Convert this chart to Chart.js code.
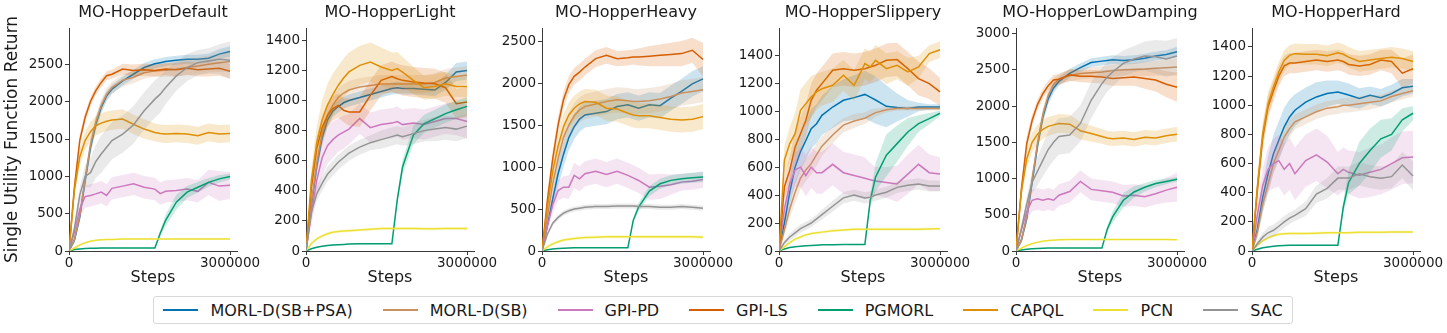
<!DOCTYPE html>
<html>
<head>
<meta charset="utf-8">
<script src="https://cdn.jsdelivr.net/npm/chart.js@4.4.1/dist/chart.umd.min.js"></script>
<style>
  body { margin: 0; background: #fff; width: 1447px; height: 333px; position: relative; overflow: hidden; font-family: "DejaVu Sans", sans-serif; }
  canvas { position: absolute; top: 0; }
  #legend { position: absolute; left: 153px; top: 296px; width: 1140px; height: 28px; box-sizing: border-box;
            border: 1px solid #d8d8d8; border-radius: 3px; display: flex; align-items: center; justify-content: center;
            font-size: 16px; color: #1a1a1a; }
  .item { display: flex; align-items: center; margin: 0 15px; white-space: nowrap; }
  .swatch { width: 35px; height: 2.6px; margin-right: 12px; }
</style>
</head>
<body>
<div id="legend"></div>
<script>
// training steps shared by every curve
const steps = [0, 100000, 200000, 300000, 400000, 500000, 600000, 700000, 800000, 1000000, 1200000,
               1400000, 1600000, 1700000, 1800000, 2000000, 2200000, 2400000, 2600000, 2800000, 3000000];
const xTicks = [0, 3000000];

const methods = ['MORL-D(SB+PSA)', 'MORL-D(SB)', 'GPI-PD', 'GPI-LS', 'PGMORL', 'CAPQL', 'PCN', 'SAC'];
const colors = ['#0173b2', '#ca9161', '#cc78bc', '#d55e00', '#029e73', '#de8f05', '#ece133', '#949494'];

const envTitles = ['MO-HopperDefault', 'MO-HopperLight', 'MO-HopperHeavy', 'MO-HopperSlippery', 'MO-HopperLowDamping', 'MO-HopperHard'];
const yMax = [2990, 1482, 2655, 1595, 3077, 1530];
const ticks500 = [0, 500, 1000, 1500, 2000, 2500];
const ticks200 = [0, 200, 400, 600, 800, 1000, 1200, 1400];
const ticks3000 = [0, 500, 1000, 1500, 2000, 2500, 3000];

// rows follow the methods order; band = half width of the shaded area
const defaultMean = [
  [0, 145, 455, 945, 1390, 1700, 1925, 2080, 2170, 2280, 2370, 2460, 2510, 2525, 2540, 2558, 2570, 2570, 2585, 2640, 2675],
  [0, 150, 470, 960, 1420, 1730, 1950, 2100, 2190, 2290, 2330, 2390, 2415, 2420, 2425, 2437, 2460, 2480, 2505, 2525, 2540],
  [0, 250, 560, 730, 745, 766, 790, 745, 840, 870, 900, 855, 830, 770, 800, 810, 830, 800, 920, 870, 880],
  [0, 850, 1480, 1790, 2005, 2150, 2260, 2350, 2370, 2440, 2420, 2430, 2420, 2430, 2440, 2430, 2450, 2430, 2440, 2450, 2410],
  [0, 20, 28, 33, 36, 38, 40, 40, 40, 40, 40, 40, 40, 237, 410, 655, 790, 855, 920, 967, 998],
  [0, 815, 1260, 1480, 1600, 1680, 1715, 1740, 1755, 1770, 1700, 1635, 1590, 1575, 1568, 1577, 1568, 1546, 1590, 1568, 1577],
  [0, 40, 80, 110, 130, 145, 150, 155, 155, 160, 160, 160, 160, 160, 160, 160, 160, 160, 160, 160, 160],
  [0, 300, 750, 1000, 1050, 1200, 1300, 1390, 1480, 1568, 1690, 1880, 2036, 2103, 2192, 2348, 2460, 2526, 2549, 2571, 2558]
];
const defaultBand = [
  [0, 40, 80, 100, 100, 90, 80, 70, 60, 60, 60, 60, 60, 60, 60, 60, 60, 60, 60, 70, 70],
  [0, 40, 80, 100, 100, 90, 80, 80, 80, 80, 80, 80, 80, 90, 90, 100, 100, 110, 110, 120, 130],
  [0, 50, 100, 150, 150, 150, 150, 150, 150, 150, 150, 150, 150, 150, 150, 150, 150, 150, 170, 200, 180],
  [0, 80, 80, 70, 60, 60, 60, 60, 60, 70, 80, 80, 80, 80, 80, 90, 90, 90, 100, 100, 100],
  [0, 5, 5, 5, 5, 5, 5, 5, 5, 5, 5, 5, 5, 40, 80, 100, 80, 70, 60, 50, 40],
  [0, 100, 120, 130, 130, 130, 130, 130, 130, 130, 130, 130, 120, 120, 120, 120, 120, 120, 120, 120, 120],
  [0, 10, 10, 10, 10, 10, 10, 10, 10, 10, 10, 10, 10, 10, 10, 10, 10, 10, 10, 10, 10],
  [0, 50, 100, 150, 200, 220, 250, 250, 250, 250, 250, 250, 250, 250, 220, 200, 180, 170, 170, 200, 250]
];

const lightMean = [
  [0, 300, 560, 750, 870, 930, 960, 985, 1000, 1020, 1040, 1060, 1080, 1085, 1080, 1080, 1075, 1070, 1120, 1190, 1200],
  [0, 320, 580, 780, 900, 970, 1020, 1050, 1070, 1090, 1100, 1110, 1110, 1110, 1110, 1110, 1110, 1120, 1150, 1160, 1170],
  [0, 250, 470, 620, 700, 740, 770, 790, 810, 880, 820, 840, 850, 860, 840, 850, 840, 860, 880, 880, 860],
  [0, 420, 680, 820, 900, 946, 968, 935, 924, 924, 1034, 1134, 1160, 1145, 1134, 1123, 1116, 1112, 1085, 979, 990],
  [0, 15, 25, 32, 37, 40, 42, 44, 46, 48, 48, 48, 48, 340, 560, 770, 846, 879, 913, 939, 961],
  [0, 470, 720, 870, 970, 1040, 1100, 1150, 1190, 1234, 1256, 1223, 1200, 1212, 1189, 1134, 1085, 1094, 1112, 1094, 1094],
  [0, 50, 80, 100, 115, 125, 130, 133, 135, 140, 145, 150, 150, 150, 150, 150, 148, 148, 150, 150, 150],
  [0, 260, 380, 450, 510, 550, 590, 620, 650, 690, 720, 740, 760, 770, 760, 780, 800, 810, 820, 810, 830]
];
const lightBand = [
  [0, 40, 50, 50, 50, 40, 40, 40, 40, 40, 40, 40, 40, 40, 40, 40, 40, 40, 50, 60, 60],
  [0, 50, 60, 60, 60, 60, 60, 60, 60, 60, 60, 60, 60, 60, 60, 60, 60, 60, 60, 60, 60],
  [0, 80, 100, 120, 120, 120, 110, 110, 100, 100, 100, 100, 100, 100, 100, 100, 100, 100, 100, 110, 110],
  [0, 60, 80, 80, 80, 80, 80, 80, 90, 100, 100, 100, 100, 100, 100, 100, 100, 100, 100, 100, 100],
  [0, 3, 3, 3, 3, 3, 3, 3, 3, 3, 3, 3, 3, 30, 50, 60, 60, 60, 60, 60, 60],
  [0, 80, 110, 130, 140, 140, 130, 130, 130, 130, 130, 130, 120, 110, 100, 90, 80, 80, 80, 70, 70],
  [0, 10, 10, 10, 10, 10, 10, 10, 10, 10, 10, 10, 10, 10, 10, 10, 10, 10, 10, 10, 10],
  [0, 40, 50, 50, 50, 50, 50, 50, 50, 50, 50, 60, 60, 60, 60, 70, 70, 80, 80, 80, 80]
];

const heavyMean = [
  [0, 300, 620, 920, 1150, 1350, 1480, 1570, 1620, 1640, 1660, 1720, 1740, 1720, 1700, 1740, 1730, 1820, 1900, 1990, 2050],
  [0, 400, 800, 1100, 1350, 1500, 1610, 1680, 1720, 1750, 1780, 1800, 1790, 1780, 1780, 1790, 1810, 1840, 1880, 1900, 1920],
  [0, 300, 550, 720, 760, 760, 900, 860, 920, 950, 910, 950, 900, 870, 840, 760, 770, 790, 820, 830, 850],
  [0, 600, 1100, 1500, 1800, 1980, 2080, 2130, 2190, 2290, 2330, 2290, 2300, 2310, 2310, 2320, 2330, 2340, 2350, 2390, 2280],
  [0, 15, 25, 30, 34, 37, 40, 40, 40, 40, 40, 40, 40, 365, 524, 714, 800, 841, 861, 873, 880],
  [0, 520, 950, 1250, 1480, 1620, 1700, 1750, 1780, 1770, 1700, 1690, 1640, 1620, 1610, 1610, 1590, 1570, 1560, 1570, 1600],
  [0, 50, 85, 110, 130, 140, 150, 155, 160, 165, 170, 170, 170, 170, 170, 170, 170, 170, 170, 170, 165],
  [0, 200, 330, 400, 450, 480, 500, 510, 520, 530, 530, 535, 535, 535, 530, 530, 520, 520, 530, 520, 510]
];
const heavyBand = [
  [0, 50, 100, 150, 150, 150, 150, 150, 150, 150, 150, 150, 150, 150, 150, 150, 150, 150, 150, 150, 150],
  [0, 60, 100, 130, 150, 150, 150, 150, 150, 150, 150, 150, 150, 150, 150, 150, 150, 150, 150, 150, 150],
  [0, 80, 100, 120, 130, 140, 150, 150, 150, 150, 150, 150, 150, 150, 150, 150, 150, 120, 100, 100, 100],
  [0, 100, 100, 100, 100, 100, 100, 100, 100, 100, 100, 90, 90, 90, 100, 120, 130, 140, 150, 150, 200],
  [0, 3, 3, 3, 3, 3, 3, 3, 3, 3, 3, 3, 3, 30, 50, 60, 60, 60, 60, 60, 60],
  [0, 80, 120, 150, 150, 150, 150, 150, 150, 150, 150, 150, 150, 150, 150, 150, 150, 150, 150, 150, 150],
  [0, 20, 20, 20, 20, 20, 20, 20, 20, 20, 20, 20, 20, 20, 20, 20, 20, 20, 20, 20, 20],
  [0, 20, 25, 30, 30, 30, 30, 30, 30, 30, 30, 30, 30, 30, 30, 30, 30, 30, 30, 30, 30]
];

const slipperyMean = [
  [0, 200, 420, 600, 710, 790, 875, 910, 970, 1030, 1078, 1097, 1120, 1100, 1080, 1035, 1026, 1020, 1030, 1030, 1030],
  [0, 150, 300, 420, 520, 580, 625, 690, 750, 830, 900, 930, 950, 970, 990, 1010, 1020, 1020, 1020, 1020, 1020],
  [0, 300, 480, 580, 600, 540, 600, 560, 560, 620, 560, 540, 520, 510, 500, 490, 480, 550, 620, 560, 550],
  [0, 458, 577, 744, 839, 935, 1078, 1150, 1197, 1293, 1304, 1293, 1304, 1316, 1328, 1364, 1369, 1304, 1233, 1197, 1138],
  [0, 15, 25, 30, 34, 37, 40, 42, 44, 45, 46, 47, 47, 362, 530, 685, 768, 851, 911, 947, 985],
  [0, 649, 768, 839, 1006, 1054, 1102, 1138, 1161, 1185, 1257, 1185, 1340, 1316, 1364, 1304, 1328, 1281, 1316, 1412, 1440],
  [0, 30, 60, 85, 100, 115, 125, 130, 135, 145, 150, 155, 155, 155, 155, 155, 155, 155, 155, 158, 160],
  [0, 60, 100, 130, 160, 180, 200, 230, 260, 320, 380, 400, 380, 385, 400, 420, 455, 470, 480, 465, 465]
];
const slipperyBand = [
  [0, 60, 100, 120, 130, 140, 140, 140, 140, 150, 150, 160, 170, 170, 170, 150, 100, 60, 30, 20, 20],
  [0, 40, 60, 80, 80, 80, 80, 80, 70, 60, 50, 50, 40, 40, 30, 20, 15, 15, 15, 15, 15],
  [0, 80, 100, 120, 140, 150, 150, 150, 150, 150, 150, 150, 150, 120, 100, 110, 130, 140, 140, 130, 120],
  [0, 80, 100, 120, 120, 120, 120, 120, 120, 120, 120, 120, 120, 120, 120, 120, 120, 120, 120, 110, 100],
  [0, 3, 3, 3, 3, 3, 3, 3, 3, 3, 3, 3, 3, 40, 100, 150, 130, 100, 60, 40, 20],
  [0, 100, 120, 150, 150, 150, 150, 130, 120, 120, 110, 110, 110, 110, 110, 110, 100, 100, 80, 60, 60],
  [0, 10, 10, 10, 10, 10, 10, 10, 10, 10, 10, 10, 10, 10, 10, 10, 10, 10, 10, 10, 10],
  [0, 20, 25, 30, 30, 30, 30, 30, 35, 40, 40, 40, 40, 40, 40, 40, 40, 40, 40, 40, 40]
];

const lowDampingMean = [
  [0, 150, 450, 950, 1450, 1850, 2100, 2250, 2340, 2450, 2530, 2600, 2620, 2630, 2640, 2630, 2640, 2660, 2690, 2710, 2750],
  [0, 150, 470, 980, 1480, 1880, 2150, 2300, 2370, 2420, 2450, 2460, 2470, 2480, 2490, 2500, 2505, 2510, 2520, 2530, 2540],
  [0, 300, 540, 700, 720, 700, 720, 700, 770, 820, 960, 850, 830, 820, 810, 760, 770, 750, 790, 840, 880],
  [0, 850, 1480, 1800, 2020, 2170, 2280, 2360, 2370, 2430, 2410, 2410, 2400, 2390, 2380, 2390, 2400, 2380, 2360, 2300, 2260],
  [0, 15, 25, 30, 34, 37, 40, 40, 40, 40, 40, 40, 40, 300, 470, 700, 814, 880, 930, 960, 990],
  [0, 820, 1270, 1500, 1610, 1680, 1720, 1740, 1760, 1750, 1660, 1620, 1580, 1560, 1550, 1560, 1540, 1570, 1560, 1590, 1610],
  [0, 40, 75, 100, 120, 135, 145, 150, 155, 160, 160, 160, 160, 160, 160, 160, 158, 158, 160, 158, 155],
  [0, 300, 650, 950, 1100, 1250, 1400, 1500, 1580, 1600, 1760, 2080, 2310, 2400, 2470, 2590, 2650, 2690, 2680, 2650, 2690]
];
const lowDampingBand = [
  [0, 40, 80, 100, 100, 90, 80, 70, 60, 60, 60, 60, 60, 60, 60, 60, 60, 60, 60, 60, 70],
  [0, 40, 80, 100, 100, 90, 80, 80, 80, 80, 80, 80, 80, 80, 80, 80, 90, 100, 100, 110, 120],
  [0, 80, 120, 150, 150, 150, 150, 150, 150, 150, 150, 150, 150, 150, 150, 150, 150, 150, 150, 170, 200],
  [0, 100, 100, 80, 70, 70, 70, 70, 70, 80, 80, 90, 90, 100, 100, 110, 120, 140, 160, 180, 200],
  [0, 3, 3, 3, 3, 3, 3, 3, 3, 3, 3, 3, 3, 40, 80, 100, 80, 60, 50, 40, 30],
  [0, 100, 130, 130, 130, 130, 130, 130, 130, 130, 120, 110, 100, 100, 100, 100, 100, 100, 100, 100, 100],
  [0, 10, 10, 10, 10, 10, 10, 10, 10, 10, 10, 10, 10, 10, 10, 10, 10, 10, 10, 10, 10],
  [0, 50, 100, 150, 200, 220, 250, 250, 250, 250, 250, 250, 220, 200, 200, 180, 180, 200, 230, 250, 250]
];

const hardMean = [
  [0, 150, 370, 530, 668, 760, 852, 920, 966, 1022, 1057, 1080, 1090, 1080, 1070, 1046, 1068, 1052, 1080, 1120, 1130],
  [0, 130, 320, 460, 600, 690, 782, 840, 886, 920, 955, 980, 990, 1000, 1000, 1010, 1020, 1030, 1060, 1080, 1100],
  [0, 250, 450, 560, 600, 620, 560, 600, 530, 620, 660, 610, 530, 560, 540, 520, 540, 560, 600, 640, 645],
  [0, 420, 780, 990, 1100, 1200, 1270, 1290, 1290, 1300, 1310, 1300, 1310, 1300, 1280, 1270, 1280, 1310, 1300, 1220, 1250],
  [0, 12, 22, 28, 33, 36, 38, 40, 40, 40, 40, 40, 40, 300, 470, 600, 690, 770, 800, 900, 945],
  [0, 440, 805, 1010, 1125, 1228, 1308, 1342, 1354, 1350, 1350, 1340, 1360, 1350, 1330, 1300, 1310, 1320, 1330, 1320, 1300],
  [0, 40, 70, 90, 105, 115, 118, 120, 120, 120, 122, 125, 125, 125, 125, 128, 128, 128, 130, 130, 130],
  [0, 50, 95, 125, 142, 170, 200, 225, 245, 290, 390, 430, 500, 500, 500, 530, 510, 500, 510, 590, 515]
];
const hardBand = [
  [0, 60, 100, 120, 130, 130, 130, 120, 110, 100, 100, 90, 80, 80, 80, 70, 60, 60, 60, 60, 50],
  [0, 40, 60, 70, 70, 70, 60, 60, 50, 50, 50, 50, 50, 50, 50, 50, 50, 40, 40, 40, 40],
  [0, 80, 120, 150, 170, 180, 180, 180, 180, 180, 180, 180, 150, 150, 150, 160, 170, 170, 180, 180, 180],
  [0, 80, 80, 80, 70, 70, 70, 70, 70, 70, 70, 70, 70, 70, 70, 70, 70, 70, 80, 100, 100],
  [0, 3, 3, 3, 3, 3, 3, 3, 3, 3, 3, 3, 3, 40, 80, 150, 150, 130, 110, 80, 50],
  [0, 80, 80, 80, 70, 70, 70, 70, 70, 70, 70, 70, 70, 70, 70, 70, 70, 70, 70, 70, 70],
  [0, 10, 10, 10, 10, 10, 10, 10, 10, 10, 10, 10, 10, 10, 10, 10, 10, 10, 10, 10, 10],
  [0, 20, 30, 40, 40, 40, 40, 40, 40, 50, 60, 70, 80, 80, 80, 80, 80, 80, 80, 90, 100]
];

const envMeans = [defaultMean, lightMean, heavyMean, slipperyMean, lowDampingMean, hardMean];
const envBands = [defaultBand, lightBand, heavyBand, slipperyBand, lowDampingBand, hardBand];
const envTicks = [ticks500, ticks200, ticks500, ticks200, ticks3000, ticks200];

// layout
const axisLeft = [69, 306, 542, 779, 1016, 1252];
const areaW = 168, canvasH = 290;
const xMax = 3130000;
const ink = '#1a1a1a', spine = '#3a3a3a';

function rgba(hex, a) {
  const n = parseInt(hex.slice(1), 16);
  return `rgba(${n >> 16},${(n >> 8) & 255},${n & 255},${a})`;
}

function buildDatasets(mean, band) {
  const ds = [];
  // last method first so it ends up drawn on top
  for (let s = methods.length - 1; s >= 0; s--) {
    const c = colors[s];
    ds.push({
      label: methods[s],
      data: steps.map((x, k) => ({ x, y: mean[s][k] })),
      borderColor: c, borderWidth: 1.5, pointRadius: 0, fill: false
    });
    ds.push({
      data: steps.map((x, k) => ({ x, y: mean[s][k] - band[s][k] })),
      borderColor: 'transparent', borderWidth: 1, pointRadius: 0, fill: false
    });
    ds.push({
      data: steps.map((x, k) => ({ x, y: mean[s][k] + band[s][k] })),
      borderColor: 'transparent', borderWidth: 1, pointRadius: 0,
      fill: '-1', backgroundColor: rgba(c, 0.2)
    });
  }
  return ds;
}

envTitles.forEach((title, i) => {
  const yw = i === 0 ? 69 : 50;
  const canvas = document.createElement('canvas');
  canvas.width = yw + areaW + yw;
  canvas.height = canvasH;
  canvas.style.left = (axisLeft[i] - yw) + 'px';
  document.body.appendChild(canvas);

  const gridOpts = { display: true, drawOnChartArea: false, drawTicks: true, tickLength: 4, color: spine, lineWidth: 1 };
  const tickValues = envTicks[i];

  new Chart(canvas, {
    type: 'line',
    data: { datasets: buildDatasets(envMeans[i], envBands[i]) },
    options: {
      responsive: false,
      animation: false,
      devicePixelRatio: 1,
      layout: { padding: 0 },
      plugins: {
        legend: { display: false },
        tooltip: { enabled: false },
        title: {
          display: true, text: title, color: ink,
          font: { family: 'DejaVu Sans', size: 16, weight: 'normal' },
          padding: { top: 3, bottom: 5.8 }
        }
      },
      scales: {
        x: {
          type: 'linear', min: 0, max: xMax,
          afterBuildTicks: s => { s.ticks = xTicks.map(v => ({ value: v })); },
          afterFit: s => { s.height = 39; },
          ticks: {
            autoSkip: false, maxRotation: 0, padding: 0, color: ink,
            font: { family: 'DejaVu Sans', size: 13.5 },
            callback: v => String(v)
          },
          grid: gridOpts,
          border: { display: true, color: spine, width: 1 },
          title: {
            display: true, text: 'Steps', color: ink,
            font: { family: 'DejaVu Sans', size: 16 },
            padding: { top: 0, bottom: 3 }
          }
        },
        y: {
          type: 'linear', min: 0, max: yMax[i],
          afterBuildTicks: s => { s.ticks = tickValues.map(v => ({ value: v })); },
          afterFit: s => { s.width = yw; },
          ticks: {
            padding: 2, color: ink,
            font: { family: 'DejaVu Sans', size: 13.5 },
            callback: v => String(v)
          },
          grid: gridOpts,
          border: { display: true, color: spine, width: 1 },
          title: {
            display: i === 0, text: 'Single Utility Function Return', color: ink,
            font: { family: 'DejaVu Sans', size: 17 },
            padding: { top: 2, bottom: 0 }
          }
        },
        // empty spacer on the right so the title centres over the plot area
        spacer: {
          type: 'linear', position: 'right', display: true,
          grid: { display: false }, border: { display: false }, ticks: { display: false },
          afterFit: s => { s.width = yw; }
        }
      }
    }
  });
});

// legend
const legend = document.getElementById('legend');
methods.forEach((m, s) => {
  const item = document.createElement('div');
  item.className = 'item';
  const sw = document.createElement('span');
  sw.className = 'swatch';
  sw.style.background = colors[s];
  const txt = document.createElement('span');
  txt.textContent = m;
  item.appendChild(sw);
  item.appendChild(txt);
  legend.appendChild(item);
});
</script>
</body>
</html>
